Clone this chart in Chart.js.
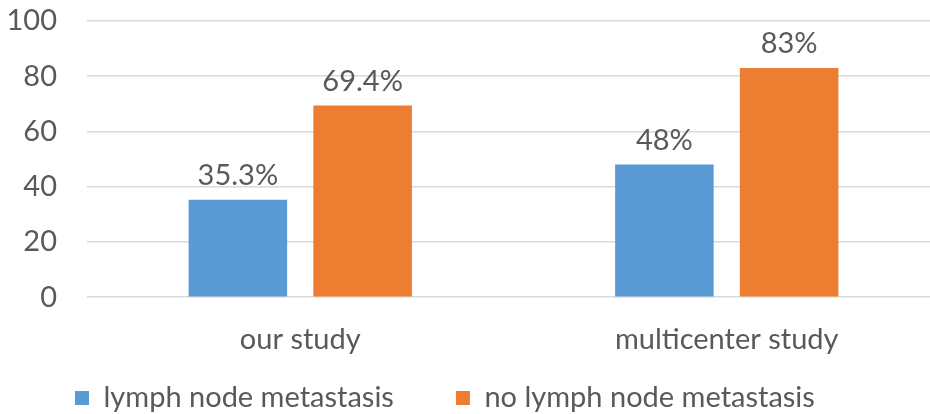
<!DOCTYPE html>
<html>
<head>
<meta charset="utf-8">
<script src="https://cdn.jsdelivr.net/npm/chart.js@4/dist/chart.umd.min.js"></script>
<style>
  html, body { margin: 0; padding: 0; background: #fff; }
  #wrap { width: 930px; height: 414px; overflow: hidden; }
  canvas { display: block; }
</style>
</head>
<body>
<div id="wrap"><canvas id="c" width="940" height="414"></canvas></div>
<script>
const categories = ['our study', 'multicenter study'];
const seriesNames = ['lymph node metastasis', 'no lymph node metastasis'];
const lymphNode = [35.3, 48];
const noLymphNode = [69.4, 83];
const yTicks = [0, 20, 40, 60, 80, 100];

const FONT = 'Lato';
const SIZE = 29;
const TEXT = '#595959';
const LEGEND_GAP = 62;

// value labels above each bar
const barLabels = {
  id: 'barLabels',
  afterDatasetsDraw(chart) {
    const ctx = chart.ctx;
    ctx.save();
    ctx.font = SIZE + 'px ' + FONT;
    ctx.fillStyle = TEXT;
    ctx.textAlign = 'center';
    ctx.textBaseline = 'alphabetic';
    chart.data.datasets.forEach((ds, i) => {
      chart.getDatasetMeta(i).data.forEach((bar, j) => {
        ctx.fillText(ds.data[j] + '%', bar.x, bar.y - 15);
      });
    });
    ctx.restore();
  }
};

// legend: wide spacing between items without growing its height,
// anchored near the left edge at the bottom of the canvas
const legendPlace = {
  id: 'legendPlace',
  beforeLayout(chart) {
    const lg = chart.legend;
    if (lg && !lg._patched) {
      const fit = lg.fit.bind(lg);
      lg.fit = function () {
        fit();
        this.height = SIZE + 20;
      };
      lg._patched = true;
    }
  },
  afterLayout(chart) {
    const lg = chart.legend;
    if (lg) {
      lg.left = 75 - LEGEND_GAP;
      lg.right = chart.width;
      lg.top = 398 - SIZE / 2 - LEGEND_GAP;
      lg.bottom = chart.height;
    }
  }
};

function draw() {
  new Chart(document.getElementById('c'), {
    type: 'bar',
    data: {
      labels: categories,
      datasets: [
        { label: seriesNames[0], data: lymphNode, backgroundColor: '#5B9BD5',
          categoryPercentage: 0.585, barPercentage: 0.79 },
        { label: seriesNames[1], data: noLymphNode, backgroundColor: '#ED7D31',
          categoryPercentage: 0.585, barPercentage: 0.79 }
      ]
    },
    options: {
      responsive: false,
      animation: false,
      layout: { padding: { top: 21, right: 0, bottom: -17, left: 0 } },
      scales: {
        x: {
          grid: { display: false, drawTicks: false },
          border: { display: false },
          ticks: { color: TEXT, font: { family: FONT, size: SIZE }, padding: 25 }
        },
        y: {
          min: 0, max: 100,
          afterBuildTicks(scale) { scale.ticks = yTicks.map(v => ({ value: v })); },
          afterFit(scale) {
            scale.width = 87;
            scale.paddingTop = 0;
            scale.paddingBottom = 0;
          },
          grid: { color: '#D9D9D9', lineWidth: 1.5, drawTicks: false },
          border: { display: false },
          ticks: { color: TEXT, font: { family: FONT, size: SIZE }, padding: 30 }
        }
      },
      plugins: {
        legend: {
          position: 'bottom',
          align: 'start',
          labels: {
            color: TEXT,
            font: { family: FONT, size: SIZE },
            boxWidth: 14, boxHeight: 14,
            padding: LEGEND_GAP
          }
        },
        tooltip: { enabled: false }
      }
    },
    plugins: [barLabels, legendPlace]
  });
}

document.fonts.load(SIZE + 'px ' + FONT).then(draw, draw);
</script>
</body>
</html>
